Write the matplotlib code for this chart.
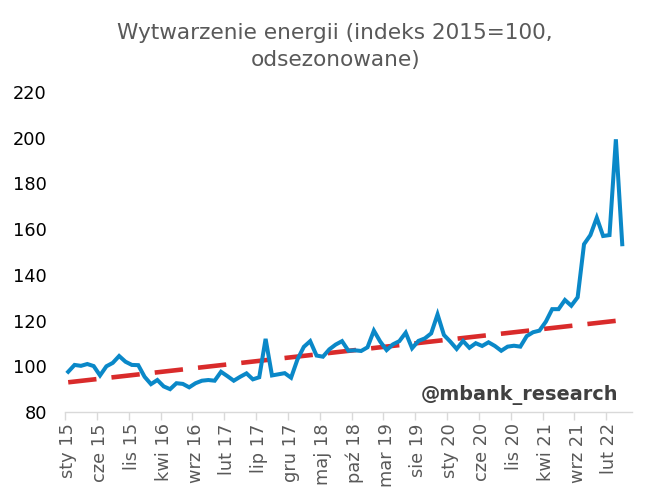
import matplotlib
matplotlib.use("Agg")
import matplotlib.pyplot as plt
import numpy as np

# monthly index, sty 15 .. kwi 22 (2015=100, seasonally adjusted)
production = [
    97.6, 100.6, 100.2, 101.0, 100.1, 96.0, 100.0, 101.5, 104.5, 102.0, 100.6, 100.5,
    95.4, 92.2, 94.0, 91.2, 90.0, 92.6, 92.3, 90.8, 92.6, 93.7, 94.0, 93.7,
    97.6, 95.7, 93.7, 95.4, 96.9, 94.3, 95.2, 112.0, 96.0, 96.5, 97.0, 95.0,
    103.0, 108.5, 111.0, 104.7, 104.2, 107.4, 109.5, 111.0, 106.8, 107.0, 106.7, 108.3,
    115.6, 110.8, 107.1, 109.6, 111.0, 114.7, 107.9, 111.1, 112.2, 114.4, 122.7, 113.7,
    110.8, 107.6, 111.1, 108.1, 110.1, 108.9, 110.5, 108.9, 106.8, 108.6, 109.0, 108.6,
    113.2, 114.9, 115.6, 119.5, 125.0, 125.0, 129.0, 126.5, 130.2, 153.4, 157.4, 165.0,
    157.0, 157.4, 199.3, 153.4,
]
# linear trend, first and last month
trend_months = [0, 87]
trend_values = [93.0, 120.2]

tick_labels = ["sty 15", "cze 15", "lis 15", "kwi 16", "wrz 16", "lut 17",
               "lip 17", "gru 17", "maj 18", "paź 18", "mar 19", "sie 19",
               "sty 20", "cze 20", "lis 20", "kwi 21", "wrz 21", "lut 22"]

fig = plt.figure(figsize=(6.52, 5.04), dpi=100)
ax = fig.add_axes((0.0997, 0.1825, 0.8693, 0.635))

x = np.arange(len(production))
ax.plot(trend_months, trend_values, color="#D92B2B", lw=3.3,
        dashes=(6.2, 3.3), solid_capstyle="butt", zorder=2)
ax.plot(x, production, color="#0A88C8", lw=2.9, solid_joinstyle="miter", zorder=3)

ax.set_xlim(-0.5, 88.5)
ax.set_ylim(80, 220)
ax.set_yticks(np.arange(80, 221, 20))
ax.tick_params(axis="y", length=0, pad=13, labelsize=12.8, labelcolor="#000000")

ax.set_xticks(np.arange(0, 5 * len(tick_labels), 5))
ax.set_xticklabels(tick_labels, rotation=90)
ax.set_xticks(np.arange(-0.5, 89, 5), minor=True)
ax.tick_params(axis="x", which="major", length=0, pad=8, labelsize=12.8, labelcolor="#595959")
ax.tick_params(axis="x", which="minor", length=6, color="#D9D9D9", width=1)

for side in ["top", "right", "left"]:
    ax.spines[side].set_visible(False)
ax.spines["bottom"].set_color("#D9D9D9")
ax.spines["bottom"].set_linewidth(1)

fig.text(0.514, 0.908, "Wytwarzenie energii (indeks 2015=100,\nodsezonowane)",
         ha="center", va="center", fontsize=15.6, color="#595959", linespacing=1.45)
ax.text(0.976, 0.053, "@mbank_research", transform=ax.transAxes, ha="right", va="center",
        fontsize=13.9, fontweight="bold", color="#404040")

fig.savefig("out.png", dpi=100)
